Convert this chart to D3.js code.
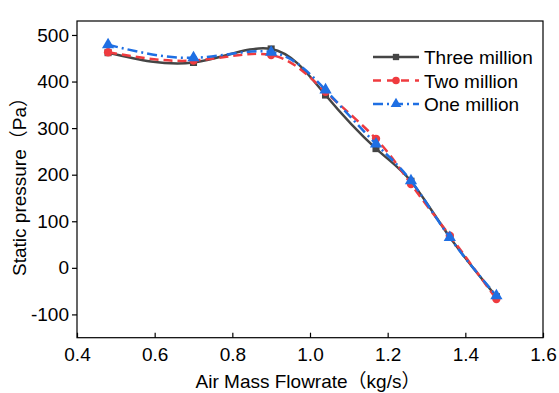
<!DOCTYPE html>
<html>
<head>
<meta charset="utf-8">
<script src="https://cdn.jsdelivr.net/npm/d3@7"></script>
<style>
  body { margin: 0; background: #fff; }
  text { font-family: "Liberation Sans", Arial, "Noto Sans CJK SC", sans-serif; }
</style>
</head>
<body>
<div id="chart"></div>
<script>
// Data
var flowrate = [0.48, 0.70, 0.90, 1.04, 1.17, 1.26, 1.36, 1.48];
var threeMillion = [462, 441, 470, 371, 256, 186, 66, -62];
var twoMillion = [463, 445, 457, 378, 277, 180, 69, -67];
var oneMillion = [479, 451, 463, 382, 266, 187, 65, -60];
var xTicks = [0.4, 0.6, 0.8, 1.0, 1.2, 1.4, 1.6];
var yTicks = [-100, 0, 100, 200, 300, 400, 500];

var svgWidth = 559;
var svgHeight = 393;
var margin = {left: 77, right: 15, top: 21, bottom: 56};
var fontSize = 19;

var svg = d3.select("#chart")
    .append("svg")
    .attr("width", svgWidth)
    .attr("height", svgHeight);

var x = d3.scaleLinear().domain([0.4, 1.6]).range([margin.left, svgWidth - margin.right - 1]);
var y = d3.scaleLinear().domain([-150, 530]).range([svgHeight - margin.bottom + 0.7, margin.top]);

// frame
svg.append("rect")
    .attr("x", x(0.4)).attr("y", y(530))
    .attr("width", x(1.6) - x(0.4)).attr("height", y(-150) - y(530))
    .attr("fill", "none").attr("stroke", "#000").attr("stroke-width", 1.2);

// x axis, ticks pointing in
var xAxis = svg.append("g")
    .attr("transform", "translate(0," + y(-150) + ")")
    .call(d3.axisBottom(x).tickValues(xTicks).tickSizeInner(-5).tickSizeOuter(0).tickPadding(10).tickFormat(d3.format(".1f")));
xAxis.select(".domain").remove();
xAxis.selectAll("line").attr("stroke-width", 1.2);
xAxis.selectAll("text").attr("font-size", fontSize).attr("fill", "#000");

// y axis, ticks pointing out
var yAxis = svg.append("g")
    .attr("transform", "translate(" + x(0.4) + ",0)")
    .call(d3.axisLeft(y).tickValues(yTicks).tickSizeInner(5).tickSizeOuter(0).tickPadding(3)
        .tickFormat(function(d) { return String(d); }));
yAxis.select(".domain").remove();
yAxis.selectAll("line").attr("stroke-width", 1.2);
yAxis.selectAll("text").attr("font-size", fontSize).attr("fill", "#000");

svg.append("text")
    .attr("x", 308).attr("y", 388)
    .attr("text-anchor", "middle").attr("font-size", fontSize)
    .text("Air Mass Flowrate（kg/s）");

svg.append("text")
    .attr("transform", "translate(26,182) rotate(-90)")
    .attr("text-anchor", "middle").attr("font-size", fontSize)
    .text("Static pressure（Pa）");

var series = [
    {name: "Three million", values: threeMillion, color: "#454545", dash: null, marker: "square"},
    {name: "Two million", values: twoMillion, color: "#ef3b3f", dash: "9,5", marker: "circle"},
    {name: "One million", values: oneMillion, color: "#1f6fe3", dash: "10,4,2,4", marker: "triangle"}
];

var line = d3.line()
    .x(function(d) { return x(d[0]); })
    .y(function(d) { return y(d[1]); })
    .curve(d3.curveNatural);

var symbolOf = {
    square: d3.symbol().type(d3.symbolSquare).size(50),
    circle: d3.symbol().type(d3.symbolCircle).size(55),
    triangle: d3.symbol().type(d3.symbolTriangle).size(65)
};
var legendSymbol = {
    square: d3.symbol().type(d3.symbolSquare).size(40),
    circle: d3.symbol().type(d3.symbolCircle).size(45),
    triangle: d3.symbol().type(d3.symbolTriangle).size(50)
};

series.forEach(function(s) {
    var pts = flowrate.map(function(f, i) { return [f, s.values[i]]; });
    svg.append("path")
        .attr("d", line(pts))
        .attr("fill", "none")
        .attr("stroke", s.color)
        .attr("stroke-width", 2.5)
        .attr("stroke-dasharray", s.dash);
    svg.selectAll(null)
        .data(pts)
        .enter()
        .append("path")
        .attr("d", symbolOf[s.marker])
        .attr("transform", function(d) { return "translate(" + x(d[0]) + "," + y(d[1]) + ")"; })
        .attr("fill", s.color);
});

// legend
var legend = svg.append("g").attr("transform", "translate(373,57)");
var legendDash = [null, "8,6", "10,4,2,4"];
series.forEach(function(s, i) {
    var row = legend.append("g").attr("transform", "translate(0," + (i * 23.5) + ")");
    row.append("line")
        .attr("x1", 0).attr("x2", 46).attr("y1", 0).attr("y2", 0)
        .attr("stroke", s.color).attr("stroke-width", 2.5)
        .attr("stroke-dasharray", legendDash[i]);
    row.append("path")
        .attr("d", legendSymbol[s.marker])
        .attr("transform", "translate(23,0)")
        .attr("fill", s.color);
    row.append("text")
        .attr("x", 51).attr("y", 7)
        .attr("font-size", fontSize)
        .text(s.name);
});
</script>
</body>
</html>
